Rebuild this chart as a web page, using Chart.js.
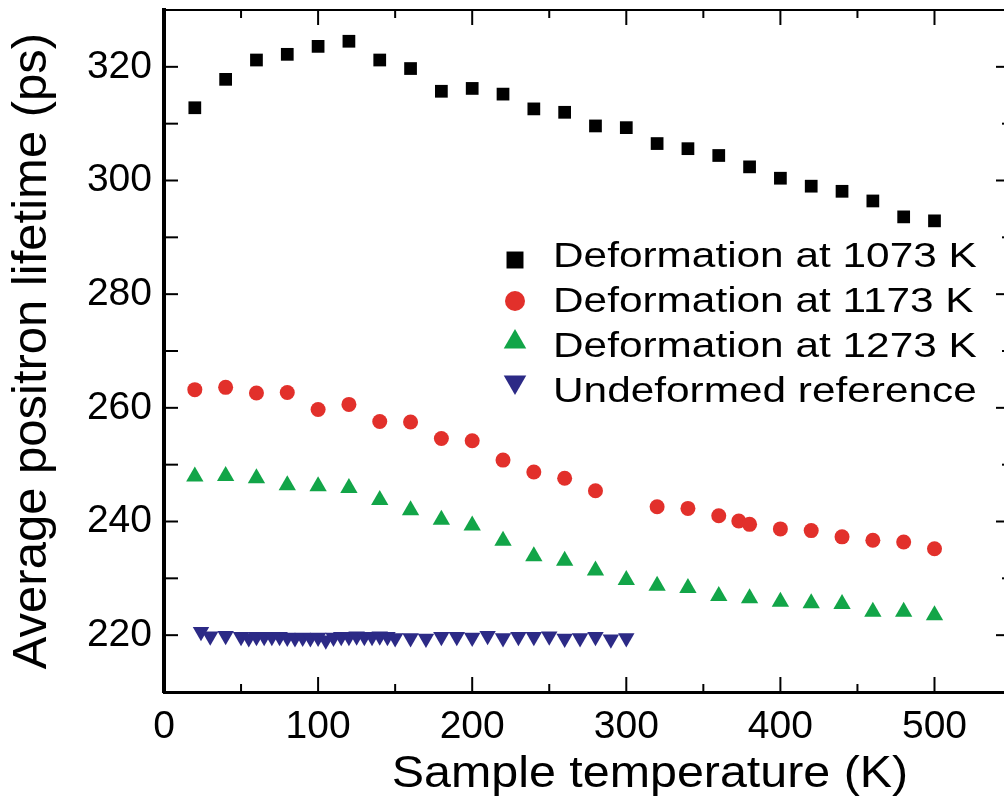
<!DOCTYPE html>
<html>
<head>
  <meta charset="utf-8" />
  <title>Average positron lifetime vs sample temperature</title>
  <style>
    html, body { margin: 0; padding: 0; overflow: hidden; background: #fff; }
    #chart { display: block; }
  </style>
</head>
<body>
<canvas id="chart" width="1020" height="798"></canvas>

<script src="https://cdn.jsdelivr.net/npm/chart.js"></script>
<script>
  // values
  var temps1073 = [20, 40, 60, 80, 100, 120, 140, 160, 180, 200, 220, 240, 260, 280, 300, 320, 340, 360, 380, 400, 420, 440, 460, 480, 500];
  var life1073 = [312.8, 317.8, 321.2, 322.2, 323.6, 324.5, 321.2, 319.7, 315.7, 316.2, 315.2, 312.6, 312.0, 309.6, 309.3, 306.5, 305.6, 304.4, 302.4, 300.4, 299.0, 298.1, 296.4, 293.6, 292.9];

  var temps1173 = [20, 40, 60, 80, 100, 120, 140, 160, 180, 200, 220, 240, 260, 280, 320, 340, 360, 373, 380, 400, 420, 440, 460, 480, 500];
  var life1173 = [263.2, 263.6, 262.6, 262.7, 259.7, 260.6, 257.6, 257.5, 254.6, 254.2, 250.8, 248.7, 247.6, 245.4, 242.6, 242.3, 241.0, 240.1, 239.5, 238.7, 238.4, 237.3, 236.7, 236.4, 235.2];

  var temps1273 = [20, 40, 60, 80, 100, 120, 140, 160, 180, 200, 220, 240, 260, 280, 300, 320, 340, 360, 380, 400, 420, 440, 460, 480, 500];
  var life1273 = [247.9, 248.0, 247.6, 246.4, 246.2, 245.9, 243.8, 242.0, 240.3, 239.3, 236.6, 233.9, 233.1, 231.4, 229.7, 228.7, 228.3, 226.9, 226.5, 225.9, 225.6, 225.5, 224.1, 224.1, 223.5];

  var tempsRef = [24, 30, 40, 50, 55, 60, 65, 70, 75, 80, 85, 90, 95, 100, 105, 110, 115, 120, 125, 130, 135, 140, 145, 150, 160, 170, 180, 190, 200, 210, 220, 230, 240, 250, 260, 270, 280, 290, 300];
  var lifeRef = [220.6, 219.8, 219.9, 219.7, 219.5, 219.7, 219.7, 219.7, 219.7, 219.6, 219.5, 219.6, 219.5, 219.6, 219.1, 219.6, 219.7, 219.7, 219.8, 219.7, 219.7, 219.8, 219.7, 219.5, 219.5, 219.4, 219.7, 219.7, 219.6, 219.9, 219.5, 219.7, 219.7, 219.8, 219.4, 219.5, 219.7, 219.3, 219.5];

  var seriesLabels = ['Deformation at 1073 K', 'Deformation at 1173 K', 'Deformation at 1273 K', 'Undeformed reference'];

  var xTicks = [0, 100, 200, 300, 400, 500];
  var xMinorTicks = [50, 150, 250, 350, 450];
  var yTicks = [220, 240, 260, 280, 300, 320];
  var yMinorTicks = [230, 250, 270, 290, 310];

  var xTitle = 'Sample temperature (K)';
  var yTitle = 'Average positron lifetime (ps)';

  var FONT = '"Liberation Sans", Arial, Helvetica, sans-serif';
  Chart.defaults.font.family = FONT;
  Chart.defaults.color = '#000';

  function toPoints(xs, ys) {
    return xs.map(function (x, i) { return { x: x, y: ys[i] }; });
  }

  function line(ctx, x1, y1, x2, y2) {
    ctx.beginPath();
    ctx.moveTo(x1, y1);
    ctx.lineTo(x2, y2);
    ctx.stroke();
  }

  // text drawn a little wider than the font, as in the original figure
  function wideText(ctx, text, x, y, size, sx, align) {
    ctx.save();
    ctx.font = size + 'px ' + FONT;
    ctx.fillStyle = '#000';
    ctx.textAlign = align;
    ctx.textBaseline = 'alphabetic';
    ctx.translate(x, y);
    ctx.scale(sx, 1);
    ctx.fillText(text, 0, 0);
    ctx.restore();
  }

  // top/right frame and inward tick marks
  var framePlugin = {
    id: 'frame',
    afterDraw: function (chart) {
      var ctx = chart.ctx, a = chart.chartArea;
      var sx = chart.scales.x, sy = chart.scales.y;
      ctx.save();
      ctx.strokeStyle = '#000';
      ctx.lineWidth = 2;
      line(ctx, a.left, a.top, a.right, a.top);
      line(ctx, a.right, a.top, a.right, a.bottom);

      xTicks.forEach(function (v) {
        var px = sx.getPixelForValue(v);
        line(ctx, px, a.bottom, px, a.bottom - 15);
        line(ctx, px, a.top, px, a.top + 15);
      });
      xMinorTicks.forEach(function (v) {
        var px = sx.getPixelForValue(v);
        line(ctx, px, a.bottom, px, a.bottom - 8);
        line(ctx, px, a.top, px, a.top + 8);
      });
      yTicks.forEach(function (v) {
        var py = sy.getPixelForValue(v);
        line(ctx, a.left, py, a.left + 14, py);
        line(ctx, a.right, py, a.right - 14, py);
      });
      yMinorTicks.forEach(function (v) {
        var py = sy.getPixelForValue(v);
        line(ctx, a.left, py, a.left + 14, py);
        line(ctx, a.right, py, a.right - 8, py);
      });
      ctx.restore();

      wideText(ctx, xTitle, 650, 787, 44, 1.1, 'center');
    }
  };

  // legend inside the plot area
  var legendPlugin = {
    id: 'innerLegend',
    afterDraw: function (chart) {
      var ctx = chart.ctx;
      var markerY = [260, 301, 342, 382];
      var textY = [267, 312, 357, 402];
      var markerR = [12, 10, 13, 13];
      chart.data.datasets.forEach(function (ds, i) {
        ctx.save();
        ctx.fillStyle = ds.backgroundColor;
        Chart.helpers.drawPoint(ctx, {
          pointStyle: ds.pointStyle,
          rotation: ds.rotation || 0,
          radius: markerR[i],
          borderWidth: 0
        }, 515, markerY[i]);
        ctx.restore();
        wideText(ctx, ds.label, 553, textY[i], 35, 1.21, 'left');
      });
    }
  };

  var ctx = document.getElementById('chart').getContext('2d');
  var chart = new Chart(ctx, {
    type: 'scatter',
    data: {
      datasets: [{
        label: seriesLabels[0],
        data: toPoints(temps1073, life1073),
        pointStyle: 'rect',
        pointRadius: 9,
        backgroundColor: '#000000',
        borderWidth: 0
      }, {
        label: seriesLabels[1],
        data: toPoints(temps1173, life1173),
        pointStyle: 'circle',
        pointRadius: 7.5,
        backgroundColor: '#e2302b',
        borderWidth: 0
      }, {
        label: seriesLabels[2],
        data: toPoints(temps1273, life1273),
        pointStyle: 'triangle',
        pointRadius: 10,
        backgroundColor: '#12a548',
        borderWidth: 0
      }, {
        label: seriesLabels[3],
        data: toPoints(tempsRef, lifeRef),
        pointStyle: 'triangle',
        rotation: 180,
        pointRadius: 9.5,
        backgroundColor: '#2c2a86',
        borderWidth: 0
      }]
    },
    options: {
      responsive: false,
      animation: false,
      events: [],
      layout: { padding: { top: 8, right: 8, bottom: 0, left: 0 } },
      plugins: {
        legend: { display: false },
        tooltip: { enabled: false }
      },
      scales: {
        x: {
          type: 'linear',
          position: 'bottom',
          min: 0,
          max: 549,
          grid: { display: false, drawTicks: false },
          border: { display: true, color: '#000', width: 3 },
          ticks: { font: { size: 39 }, color: '#000', padding: 12, maxRotation: 0 },
          afterBuildTicks: function (s) { s.ticks = xTicks.map(function (v) { return { value: v }; }); },
          afterFit: function (s) {
            s.height = 106;
            s.paddingLeft = 0;
            s.paddingRight = 0;
          }
        },
        y: {
          type: 'linear',
          position: 'left',
          min: 210,
          max: 330,
          grid: { display: false, drawTicks: false },
          border: { display: true, color: '#000', width: 4 },
          ticks: { font: { size: 39 }, color: '#000', padding: 12 },
          afterBuildTicks: function (s) { s.ticks = yTicks.map(function (v) { return { value: v }; }); },
          afterFit: function (s) {
            s.width = 164;
            s.paddingTop = 0;
            s.paddingBottom = 0;
          },
          title: {
            display: true,
            text: yTitle,
            color: '#000',
            font: { size: 49 },
            padding: { top: 3, bottom: 0 }
          }
        }
      }
    },
    plugins: [framePlugin, legendPlugin]
  });
</script>
</body>
</html>
